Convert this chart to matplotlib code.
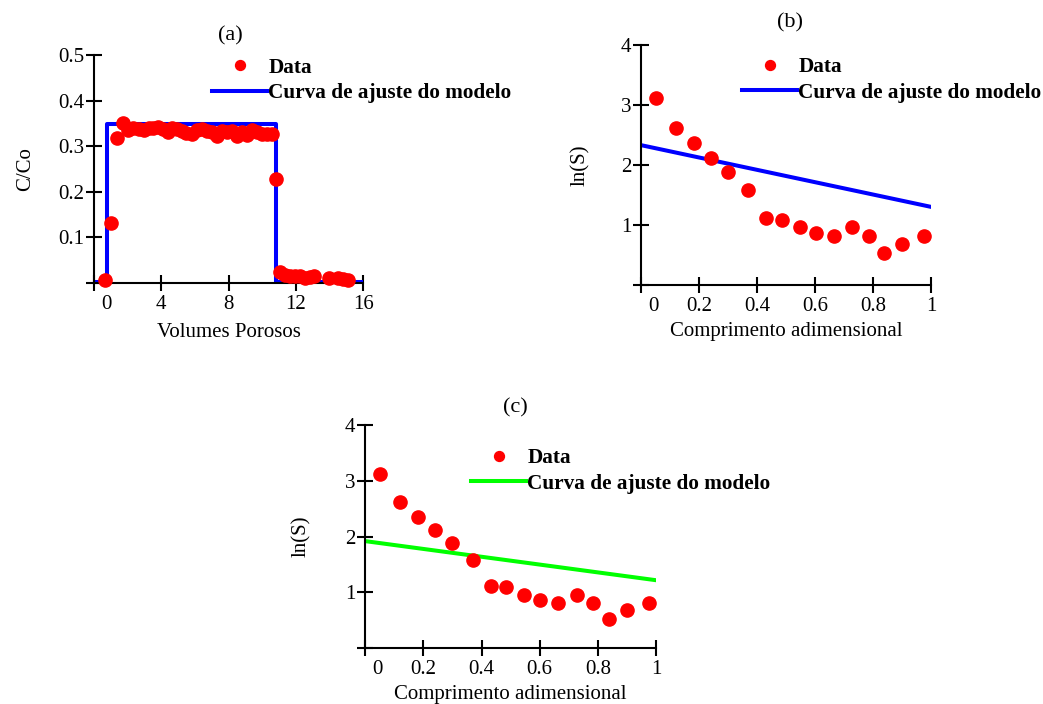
import numpy as np
import matplotlib.pyplot as plt
import matplotlib.transforms as mtransforms

plt.rcParams['font.family'] = ['Liberation Serif', 'DejaVu Serif']
plt.rcParams['font.size'] = 15

# panel (a): breakthrough curve
a_x = [0.65, 1.0, 1.37, 1.75, 2.05, 2.35, 2.65, 2.95, 3.25, 3.5, 3.8, 4.1, 4.4, 4.65,
       4.95, 5.25, 5.5, 5.8, 6.1, 6.4, 6.7, 7.0, 7.3, 7.6, 7.9, 8.2, 8.5, 8.8, 9.1,
       9.4, 9.7, 10.0, 10.3, 10.6, 10.85, 11.05, 11.35, 11.65, 11.95, 12.25, 12.55,
       12.85, 13.1, 14.0, 14.5, 14.8, 15.1]
a_y = [0.007, 0.132, 0.317, 0.351, 0.336, 0.340, 0.338, 0.335, 0.339, 0.340, 0.343,
       0.338, 0.332, 0.340, 0.337, 0.333, 0.329, 0.327, 0.336, 0.337, 0.333, 0.330,
       0.323, 0.333, 0.331, 0.334, 0.323, 0.330, 0.325, 0.335, 0.330, 0.327, 0.327,
       0.327, 0.229, 0.025, 0.018, 0.015, 0.015, 0.016, 0.012, 0.014, 0.016, 0.010,
       0.011, 0.008, 0.007]
a_fit_x = [0.0, 0.75, 0.75, 10.8, 10.8, 16.0]
a_fit_y = [0.003, 0.003, 0.348, 0.348, 0.003, 0.003]

# panels (b) and (c): ln(S) vs dimensionless length
s_x = [0.051, 0.12, 0.183, 0.24, 0.30, 0.37, 0.432, 0.485, 0.547, 0.602, 0.664,
       0.728, 0.784, 0.837, 0.90, 0.976]
s_y = [3.12, 2.62, 2.36, 2.12, 1.89, 1.59, 1.12, 1.09, 0.96, 0.86, 0.82, 0.96,
       0.82, 0.53, 0.69, 0.82]
b_fit_x = [0.0, 1.0]
b_fit_y = [2.33, 1.30]
c_fit_x = [0.0, 1.0]
c_fit_y = [1.92, 1.22]

a_xticks = [0, 4, 8, 12, 16]
a_yticks = [0, 0.1, 0.2, 0.3, 0.4, 0.5]
a_ylabels = ['', '0.1', '0.2', '0.3', '0.4', '0.5']
s_xticks = [0, 0.2, 0.4, 0.6, 0.8, 1.0]
s_xlabels = ['0', '0.2', '0.4', '0.6', '0.8', '1']
s_yticks = [0, 1, 2, 3, 4]
s_ylabels = ['', '1', '2', '3', '4']

fig = plt.figure(figsize=(10.43, 7.04), dpi=100)
ax_a = fig.add_axes([0.0901, 0.598, 0.258, 0.324])
ax_b = fig.add_axes([0.6146, 0.5952, 0.2784, 0.341])
ax_c = fig.add_axes([0.3502, 0.0791, 0.2787, 0.3172])


def style(ax, title, tx, ty, xlab, ylab, ylx, xly):
    for s in ['top', 'right']:
        ax.spines[s].set_visible(False)
    for s in ['left', 'bottom']:
        ax.spines[s].set_linewidth(1.5)
    ax.tick_params(direction='inout', length=12, width=1.5, labelsize=15)
    ax.tick_params(axis='x', pad=2.5)
    ax.tick_params(axis='y', pad=1)
    ax.text(tx, ty, title, transform=ax.transAxes, ha='center', va='center', fontsize=16)
    ax.set_xlabel(xlab, fontsize=15)
    ax.set_ylabel(ylab, fontsize=15)
    ax.yaxis.set_label_coords(ylx, 0.5)
    ax.xaxis.set_label_coords(0.5, xly)
    # first x label sits right of the origin, as in the original
    lab0 = ax.get_xticklabels()[0]
    lab0.set_transform(lab0.get_transform() + mtransforms.ScaledTranslation(12 / 100, 0, fig.dpi_scale_trans))


def legend(ax, x, y):
    ax.legend(loc='upper left', bbox_to_anchor=(x, y), frameon=False, borderpad=0,
              borderaxespad=0, handlelength=2.6, handletextpad=0.05, labelspacing=0.25,
              markerscale=0.75, prop={'weight': 'bold', 'size': 15.3})


ax_a.plot(a_x, a_y, 'o', color='red', ms=9.5, label='Data', clip_on=False, zorder=3)
ax_a.plot(a_fit_x, a_fit_y, '-', color='blue', lw=2.9, label='Curva de ajuste do modelo')
ax_a.set_xlim(0, 16)
ax_a.set_ylim(0, 0.5)
ax_a.set_xticks(a_xticks)
ax_a.set_yticks(a_yticks)
ax_a.set_yticklabels(a_ylabels)
style(ax_a, '(a)', 0.506, 1.083, 'Volumes Porosos', 'C/Co', -0.22, -0.175)
legend(ax_a, 0.439, 0.987)

ax_b.plot(s_x, s_y, 'o', color='red', ms=9.5, label='Data', zorder=3)
ax_b.plot(b_fit_x, b_fit_y, '-', color='blue', lw=2.9, label='Curva de ajuste do modelo')
ax_b.set_xlim(0, 1)
ax_b.set_ylim(0, 4)
ax_b.set_xticks(s_xticks)
ax_b.set_xticklabels(s_xlabels)
ax_b.set_yticks(s_yticks)
ax_b.set_yticklabels(s_ylabels)
style(ax_b, '(b)', 0.513, 1.0915, 'Comprimento adimensional', 'ln(S)', -0.176, -0.155)
legend(ax_b, 0.348, 0.948)

ax_c.plot(s_x, s_y, 'o', color='red', ms=9.5, label='Data', zorder=3)
ax_c.plot(c_fit_x, c_fit_y, '-', color='#00ff00', lw=2.9, label='Curva de ajuste do modelo')
ax_c.set_xlim(0, 1)
ax_c.set_ylim(0, 4)
ax_c.set_xticks(s_xticks)
ax_c.set_xticklabels(s_xlabels)
ax_c.set_yticks(s_yticks)
ax_c.set_yticklabels(s_ylabels)
style(ax_c, '(c)', 0.516, 1.077, 'Comprimento adimensional', 'ln(S)', -0.187, -0.165)
legend(ax_c, 0.364, 0.896)

fig.savefig('out.png', dpi=100)
